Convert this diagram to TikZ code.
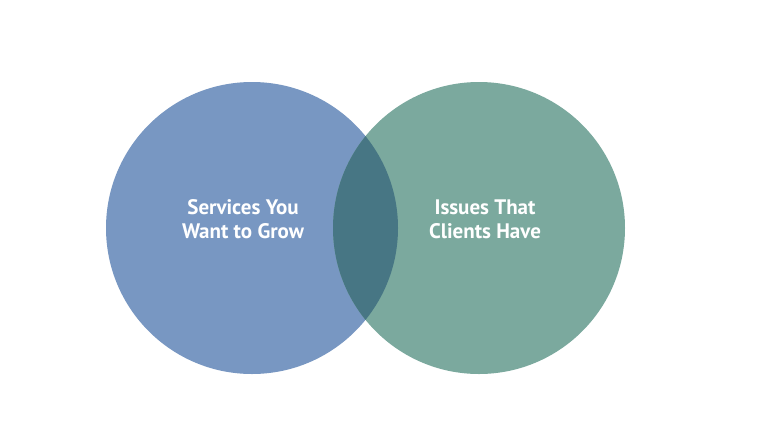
\documentclass[tikz,border=0pt]{standalone}
\usepackage{fontspec}
\setmainfont{PT Sans}

\definecolor{servicesblue}{RGB}{120,151,194}
\definecolor{issuesgreen}{RGB}{123,169,158}
\definecolor{overlapteal}{RGB}{71,118,132}

\begin{document}
\begin{tikzpicture}[x=1pt, y=-1pt,
    setdisk/.style={circle, inner sep=0pt, minimum size=292pt},
    label/.style={text=white, font=\bfseries\fontsize{21}{24}\selectfont, align=center}
]

% Canvas
\useasboundingbox (0,0) rectangle (769,432);

% The two sets
\node[setdisk, fill=servicesblue] (services) at (252,228) {};
\node[setdisk, fill=issuesgreen] (issues) at (479,228) {};

% Overlap lens
\begin{scope}
  \clip (services.center) circle (146);
  \fill[overlapteal] (issues.center) circle (146);
\end{scope}

% Set labels
\node[label] (serviceslabel) at (243,219) {Services You\\Want to Grow};
\node[label] (issueslabel) at (485,219) {Issues That\\Clients Have};

\end{tikzpicture}
\end{document}
